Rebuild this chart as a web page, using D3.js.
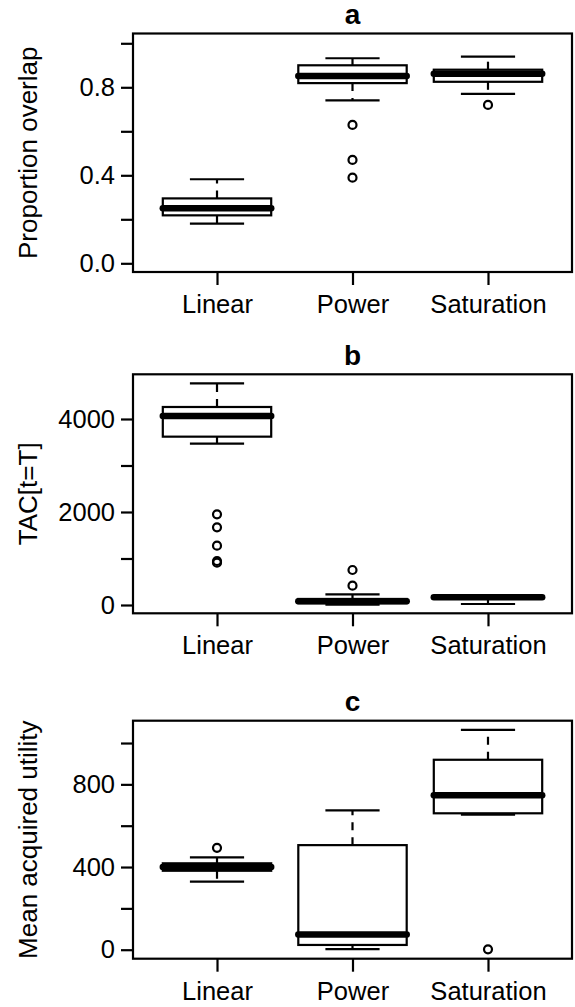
<!DOCTYPE html>
<html><head><meta charset="utf-8">
<script src="https://cdn.jsdelivr.net/npm/d3@7"></script>
<style>html,body{margin:0;padding:0;background:#fff;}svg{display:block;}</style>
</head><body>
<script>
// ---- data ----
const categories = ["Linear", "Power", "Saturation"];
const panelTitles = ["a", "b", "c"];
const yLabels = ["Proportion overlap", "TAC[t=T]", "Mean acquired utility"];

// stats per category: [lowWhisker, q1, median, q3, highWhisker]
const overlapStats = [
  [0.18, 0.218, 0.25, 0.295, 0.382],
  [0.741, 0.819, 0.851, 0.90, 0.932],
  [0.77, 0.825, 0.862, 0.88, 0.939]
];
const overlapOutliers = [[], [0.629, 0.47, 0.389], [0.72]];
const overlapTicks = [0, 0.2, 0.4, 0.6, 0.8, 1.0];
const overlapTickLabels = ["0.0", "", "0.4", "", "0.8", ""];

const tacStats = [
  [3469, 3620, 4065, 4258, 4768],
  [10, 40, 80, 130, 230],
  [21, 150, 165, 175, 190]
];
const tacOutliers = [[1950, 1671, 1276, 946, 910], [753, 415], []];
const tacTicks = [0, 1000, 2000, 3000, 4000];
const tacTickLabels = ["0", "", "2000", "", "4000"];

const utilityStats = [
  [329, 382, 400, 418, 447],
  [3, 23, 74, 506, 674],
  [653, 660, 747, 919, 1064]
];
const utilityOutliers = [[493], [], [2]];
const utilityTicks = [0, 200, 400, 600, 800, 1000];
const utilityTickLabels = ["0", "", "400", "", "800", ""];

// ---- layout ----
const W = 575, H = 1007;
const plotLeft = 133, plotRight = 572;
const panels = [
  {title: panelTitles[0], ylab: yLabels[0], stats: overlapStats, outliers: overlapOutliers,
   ticks: overlapTicks, tickLabels: overlapTickLabels, top: 33.5, bottom: 272, domain: [-0.0395, 1.0445]},
  {title: panelTitles[1], ylab: yLabels[1], stats: tacStats, outliers: tacOutliers,
   ticks: tacTicks, tickLabels: tacTickLabels, top: 374.3, bottom: 613.3, domain: [-178.5, 4961]},
  {title: panelTitles[2], ylab: yLabels[2], stats: utilityStats, outliers: utilityOutliers,
   ticks: utilityTicks, tickLabels: utilityTickLabels, top: 720.7, bottom: 958.7, domain: [-43.5, 1108]}
];

const font = "'Liberation Sans', Arial, Helvetica, sans-serif";
const axisFont = 25.5, labFont = 26, titleFont = 28;
const svg = d3.select("body").append("svg").attr("width", W).attr("height", H)
  .style("font-family", font);

const x = d3.scaleLinear().domain([0.38, 3.62]).range([plotLeft, plotRight]);
const boxW = x(1.4) - x(1.0);      // half of 0.8 box width
const stapleW = boxW / 2;
const lw = 2.2;

panels.forEach(p => {
  const y = d3.scaleLinear().domain(p.domain).range([p.bottom, p.top]);
  const g = svg.append("g");

  // frame
  g.append("rect").attr("x", plotLeft).attr("y", p.top)
    .attr("width", plotRight - plotLeft).attr("height", p.bottom - p.top)
    .attr("fill", "none").attr("stroke", "#000").attr("stroke-width", lw);

  // y axis
  const yAxis = d3.axisLeft(y).tickValues(p.ticks).tickSize(12).tickPadding(6)
    .tickFormat((d, i) => p.tickLabels[i]);
  const ya = g.append("g").attr("transform", `translate(${plotLeft},0)`).call(yAxis);
  ya.select(".domain").remove();
  ya.selectAll(".tick line").attr("stroke", "#000").attr("stroke-width", lw);
  ya.selectAll(".tick text").attr("font-size", axisFont).attr("font-family", font).attr("fill", "#000");

  // x axis
  const xAxis = d3.axisBottom(x).tickValues([1, 2, 3]).tickSize(13).tickPadding(10)
    .tickFormat((d, i) => categories[i]);
  const xa = g.append("g").attr("transform", `translate(0,${p.bottom})`).call(xAxis);
  xa.select(".domain").remove();
  xa.selectAll(".tick line").attr("stroke", "#000").attr("stroke-width", lw);
  xa.selectAll(".tick text").attr("font-size", axisFont).attr("font-family", font).attr("fill", "#000")
    .attr("dy", null).attr("y", 41);

  // title
  g.append("text").attr("x", (plotLeft + plotRight) / 2).attr("y", p.top - 9.5)
    .attr("text-anchor", "middle").attr("font-weight", "bold").attr("font-size", titleFont).text(p.title);

  // y label
  const cy = (p.top + p.bottom) / 2;
  g.append("text").attr("transform", `translate(37,${cy}) rotate(-90)`)
    .attr("text-anchor", "middle").attr("font-size", labFont).text(p.ylab);

  // boxes
  p.stats.forEach((s, i) => {
    const cx = x(i + 1);
    const bg = g.append("g");
    bg.append("line").attr("x1", cx).attr("x2", cx).attr("y1", y(s[3])).attr("y2", y(s[4]))
      .attr("stroke", "#000").attr("stroke-width", lw).attr("stroke-dasharray", "8,7");
    bg.append("line").attr("x1", cx).attr("x2", cx).attr("y1", y(s[1])).attr("y2", y(s[0]))
      .attr("stroke", "#000").attr("stroke-width", lw).attr("stroke-dasharray", "8,7");
    [s[0], s[4]].forEach(v => {
      bg.append("line").attr("x1", cx - stapleW).attr("x2", cx + stapleW)
        .attr("y1", y(v)).attr("y2", y(v)).attr("stroke", "#000").attr("stroke-width", lw);
    });
    bg.append("rect").attr("x", cx - boxW).attr("y", y(s[3]))
      .attr("width", 2 * boxW).attr("height", y(s[1]) - y(s[3]))
      .attr("fill", "#fff").attr("stroke", "#000").attr("stroke-width", lw);
    bg.append("line").attr("x1", cx - boxW).attr("x2", cx + boxW)
      .attr("y1", y(s[2])).attr("y2", y(s[2]))
      .attr("stroke", "#000").attr("stroke-width", 6.5).attr("stroke-linecap", "round");
    p.outliers[i].forEach(v => {
      bg.append("circle").attr("cx", cx).attr("cy", y(v)).attr("r", 4)
        .attr("fill", "none").attr("stroke", "#000").attr("stroke-width", 2.2);
    });
  });
});
</script>
</body></html>
